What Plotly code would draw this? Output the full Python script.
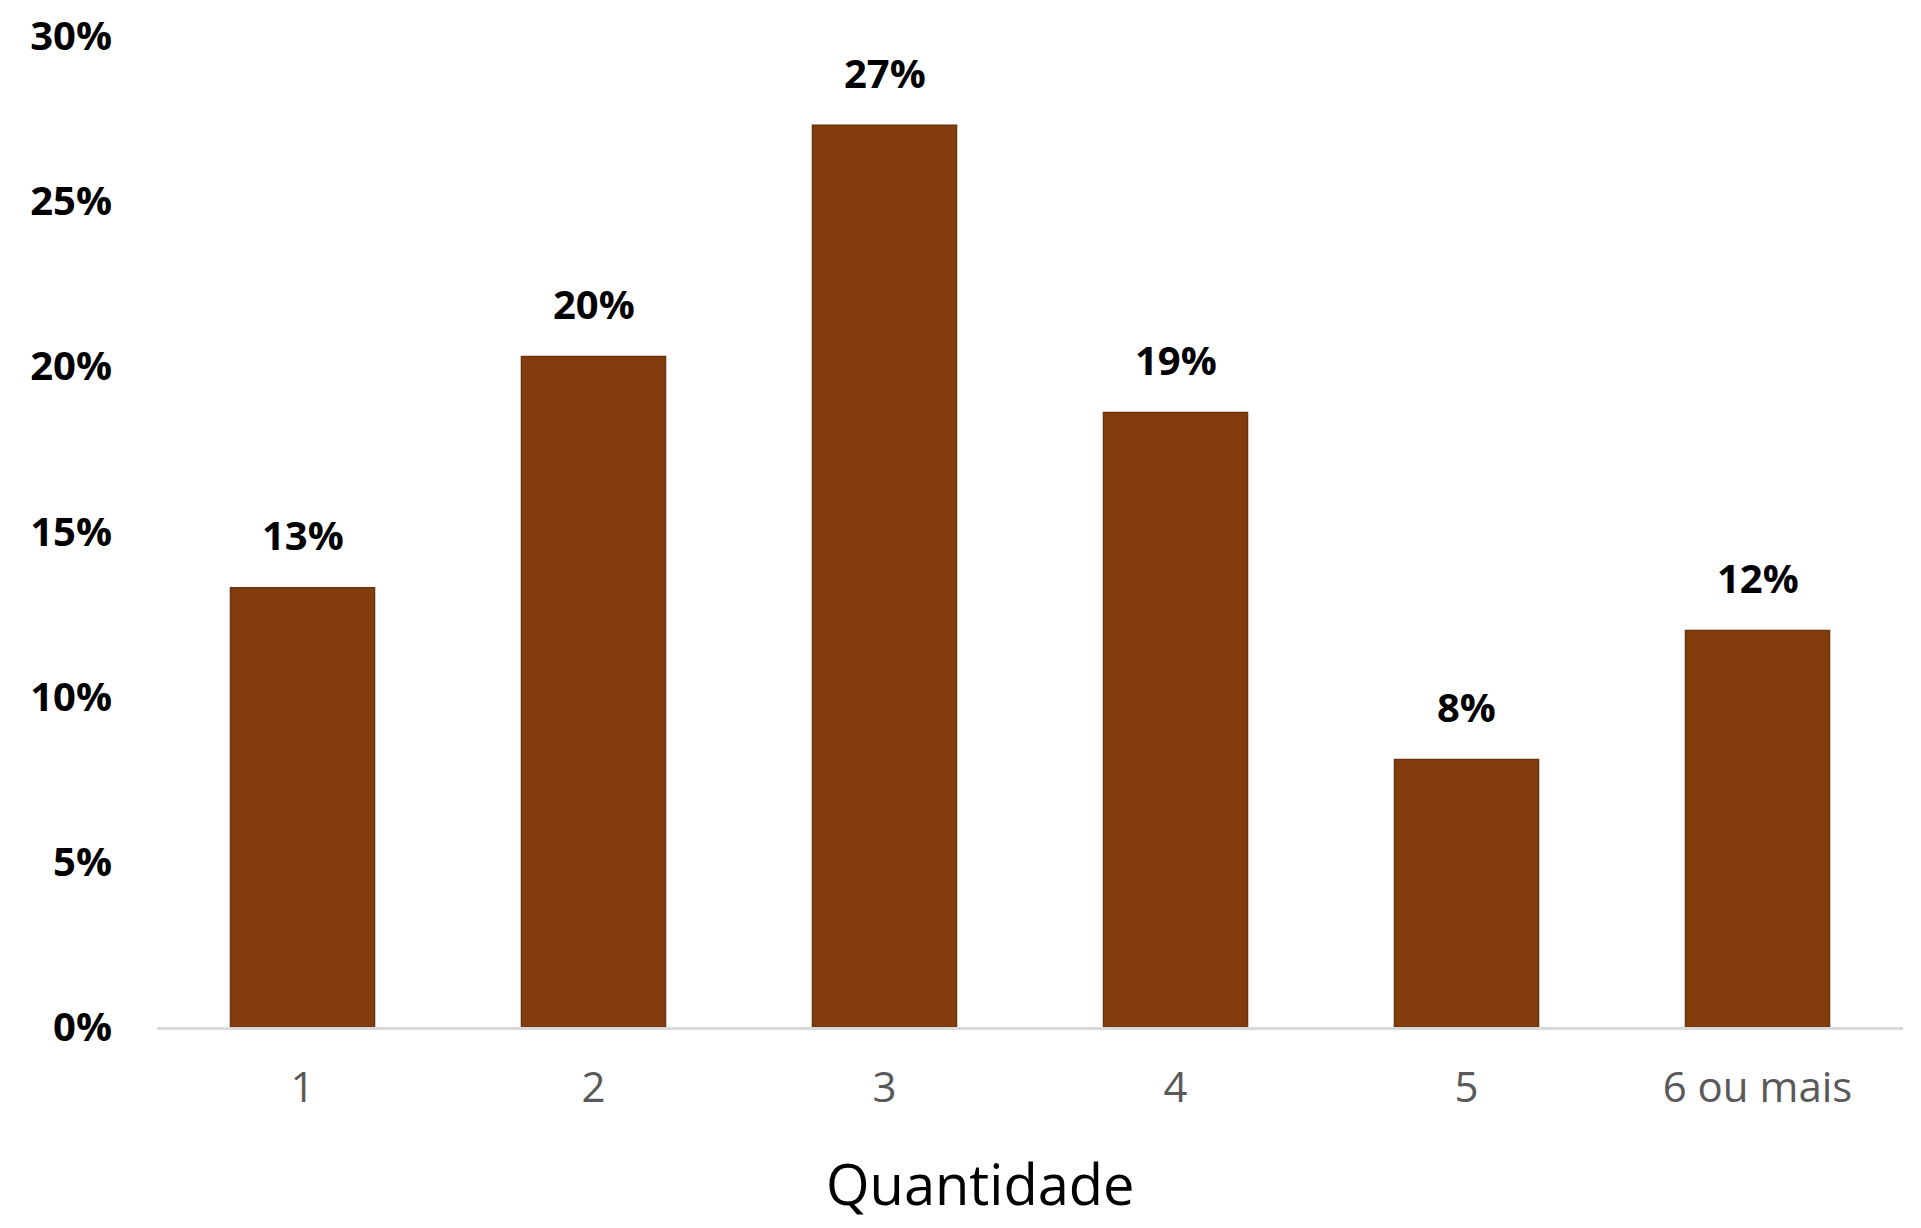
import plotly.graph_objects as go

categories = ["1", "2", "3", "4", "5", "6 ou mais"]
values = [13.3, 20.3, 27.3, 18.6, 8.1, 12.0]
y_ticks = [0, 5, 10, 15, 20, 25, 30]

BAR_COLOR = "#833C0B"

fig = go.Figure()
fig.add_trace(go.Bar(
    x=categories,
    y=values,
    marker=dict(color=BAR_COLOR, line=dict(color="#6b3512", width=1.5)),
    hoverinfo="skip",
))

for i, v in enumerate(values):
    fig.add_annotation(
        x=i, y=v, text=f"<b>{v:.0f}%</b>", showarrow=False,
        yanchor="middle", yshift=53,
        font=dict(family="Open Sans", size=40, color="#000000"),
    )

fig.add_annotation(
    xref="paper", yref="paper", x=0.4714, y=0, text="Quantidade",
    showarrow=False, xanchor="center", yanchor="middle", yshift=-156,
    font=dict(family="Open Sans", size=56, color="#000000"),
)

fig.update_layout(
    width=1905, height=1212,
    margin=dict(l=149, r=10, t=28, b=193),
    paper_bgcolor="white", plot_bgcolor="white",
    bargap=0.505,
    showlegend=False,
    font=dict(family="Open Sans"),
)
fig.update_xaxes(
    automargin=False,
    showline=True, linecolor="#d9d9d9", linewidth=3,
    showgrid=False, ticks="",
    tickfont=dict(family="Open Sans", size=42, color="#595959"),
    ticklabelstandoff=22,
)
fig.update_yaxes(
    automargin=False,
    range=[0, 30], tickvals=y_ticks, ticktext=[f"<b>{t}%</b>" for t in y_ticks],
    showgrid=False, zeroline=False, showline=False, ticks="",
    tickfont=dict(family="Open Sans", size=40, color="#000000"),
    ticklabelstandoff=44, ticklabeloverflow="allow",
)

fig.write_html("out.html")
